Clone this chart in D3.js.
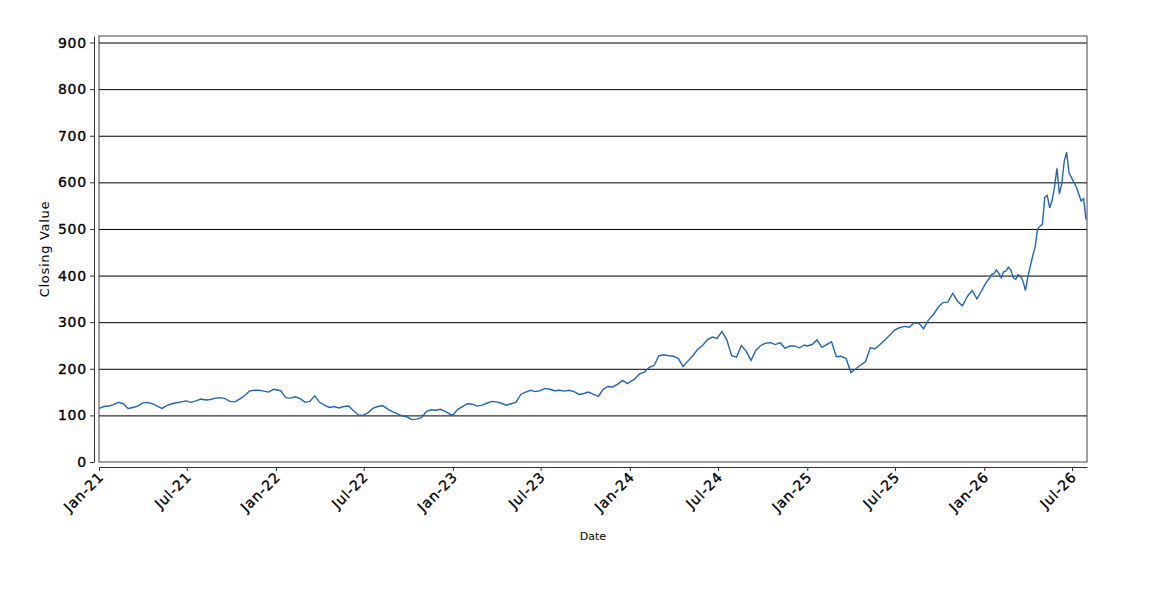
<!DOCTYPE html>
<html>
<head>
<meta charset="utf-8">
<script src="https://cdn.jsdelivr.net/npm/d3@7"></script>
<style>
  body { margin: 0; background: #fff; }
  .axis text { font-family: "DejaVu Sans", sans-serif; font-size: 14px; letter-spacing: 0.8px; fill: #000;
    stroke: #000; stroke-width: 0.35px; }
  .axis path, .axis line { stroke: #333; }
  .grid line { stroke: #000; }
  .grid path { display: none; }
  .line { fill: none; stroke: #2266b5; stroke-width: 1.4px; }
  .title { font-family: "DejaVu Sans", sans-serif; fill: #000; }
</style>
</head>
<body>
<div id="chart"></div>
<script>
// closing values, one point every 10 days from 1 Jan of each year
var stepDays = 10;
var close2021 = [115, 119, 120, 123, 128, 125, 115, 117, 120, 127, 128, 125, 120, 115, 121, 125, 127, 129, 131,
  128, 131, 135, 133, 134, 137, 138, 136, 130, 129, 135, 142, 152, 154, 154, 152, 150, 156];
var close2022 = [155, 153, 138, 137, 140, 136, 128, 130, 142, 128, 122, 117, 119, 116, 119, 120, 110, 101, 100,
  106, 115, 119, 121, 114, 108, 104, 99, 97, 91, 92, 95, 108, 112, 111, 113, 108, 102];
var close2023 = [101, 113, 119, 125, 124, 120, 122, 126, 130, 129, 126, 122, 125, 128, 145, 150, 154, 151, 153,
  158, 156, 153, 154, 152, 154, 151, 145, 147, 150, 145, 141, 156, 162, 161, 167, 175, 168];
var close2024 = [172, 178, 189, 193, 203, 207, 228, 230, 228, 227, 222, 205, 217, 228, 242, 250, 262, 268, 265,
  280, 262, 228, 225, 250, 238, 218, 240, 250, 255, 256, 252, 256, 244, 249, 249, 245, 251];
var close2025 = [249, 252, 262, 246, 252, 258, 226, 227, 222, 192, 200, 208, 215, 245, 243, 252, 262, 272, 283,
  288, 291, 289, 298, 298, 286, 305, 316, 332, 342, 343, 362, 345, 335, 355, 368, 350, 368];
// 2026 is sampled every 5 days
var step2026 = 5;
var close2026 = [378, 387, 393, 402, 404, 412, 405, 395, 408, 410, 418, 412, 395, 392, 402, 398, 388, 368, 397,
  420, 442, 461, 500, 506, 510, 568, 572, 545, 561, 590, 630, 575, 597, 645, 665, 620, 610, 600, 590, 575,
  560, 565, 520];

var yTicks = [0, 100, 200, 300, 400, 500, 600, 700, 800, 900];
var yMax = 914;
var xStart = new Date(2021, 0, 1);
var xEnd = new Date(2026, 7, 1);

function toSeries(year, values, step) {
  return values.map(function (v, i) {
    return { date: d3.timeDay.offset(new Date(year, 0, 1), i * step), value: v };
  });
}

var data = [].concat(
  toSeries(2021, close2021, stepDays),
  toSeries(2022, close2022, stepDays),
  toSeries(2023, close2023, stepDays),
  toSeries(2024, close2024, stepDays),
  toSeries(2025, close2025, stepDays),
  toSeries(2026, close2026, step2026)
);

var margin = { top: 36, right: 63, bottom: 138, left: 99 };
var width = 1150 - margin.left - margin.right;
var height = 600 - margin.top - margin.bottom;

var svg = d3.select("#chart").append("svg")
  .attr("width", 1150)
  .attr("height", 600);

var g = svg.append("g")
  .attr("transform", "translate(" + margin.left + "," + margin.top + ")");

var x = d3.scaleTime().domain([xStart, xEnd]).range([0, width]);
var y = d3.scaleLinear().domain([0, yMax]).range([height, 0]);

// horizontal grid lines
g.append("g")
  .attr("class", "grid")
  .call(d3.axisLeft(y).tickValues(yTicks.slice(1)).tickSize(-width).tickFormat(""));

// plot frame
g.append("rect")
  .attr("width", width)
  .attr("height", height)
  .attr("fill", "none")
  .attr("stroke", "#444");

// y axis, pushed a little to the left
g.append("g")
  .attr("class", "axis axis--y")
  .attr("transform", "translate(-5,0)")
  .call(d3.axisLeft(y).tickValues(yTicks).tickSizeInner(4).tickSizeOuter(0).tickPadding(3));

// x axis, pushed a little down
var xAxis = g.append("g")
  .attr("class", "axis axis--x")
  .attr("transform", "translate(0," + (height + 5) + ")")
  .call(d3.axisBottom(x).ticks(d3.timeMonth.every(6)).tickFormat(d3.timeFormat("%b-%y"))
    .tickSizeInner(4).tickSizeOuter(0));

xAxis.selectAll("text")
  .attr("y", 0)
  .attr("dy", 0)
  .style("text-anchor", "end")
  .attr("transform", "translate(5,11) rotate(-45)");

// closing value line
var line = d3.line()
  .x(function (d) { return x(d.date); })
  .y(function (d) { return y(d.value); });

g.append("path")
  .datum(data)
  .attr("class", "line")
  .attr("d", line);

// axis titles
svg.append("text")
  .attr("class", "title")
  .attr("transform", "translate(49," + (margin.top + height / 2) + ") rotate(-90)")
  .style("text-anchor", "middle")
  .style("font-size", "13px")
  .style("letter-spacing", "0.7px")
  .text("Closing Value");

svg.append("text")
  .attr("class", "title")
  .attr("x", margin.left + width / 2)
  .attr("y", 540)
  .style("text-anchor", "middle")
  .style("font-size", "11px")
  .text("Date");
</script>
</body>
</html>
